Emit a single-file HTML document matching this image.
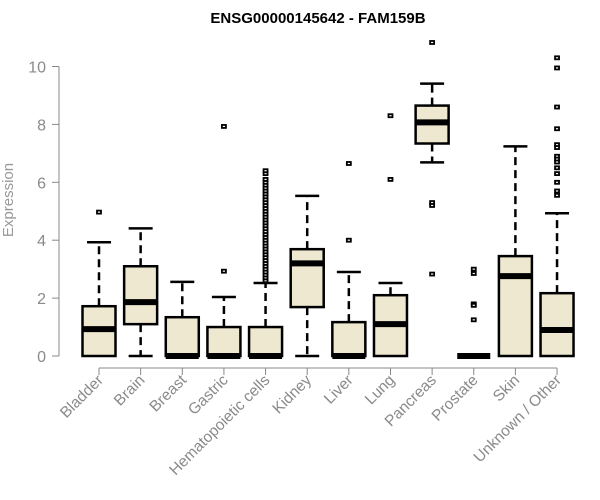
<!DOCTYPE html>
<html><head><meta charset="utf-8"><style>
body{margin:0;background:#fff;}
svg{display:block;font-family:"Liberation Sans",Arial,sans-serif;}
</style></head><body>
<svg id="chart" width="600" height="500" viewBox="0 0 600 500" xmlns="http://www.w3.org/2000/svg">
<text x="318" y="23" text-anchor="middle" font-weight="bold" font-size="15" fill="#000">ENSG00000145642 - FAM159B</text>
<text transform="translate(13,200) rotate(-90)" text-anchor="middle" font-size="15" fill="#999">Expression</text>
<g id="axes"></g>
<g id="boxes"></g>
</svg>
<script>
const categories=["Bladder","Brain","Breast","Gastric","Hematopoietic cells","Kidney","Liver","Lung","Pancreas","Prostate","Skin","Unknown / Other"];
const whiskerLow=[0,0,0,0,0,0,0,0,6.69,0,0,0];
const q1=[0,1.1,0,0,0,1.69,0,0,7.34,0,0,0];
const median=[0.93,1.86,0,0,0,3.2,0,1.1,8.07,0,2.76,0.9];
const q3=[1.72,3.1,1.34,1.0,1.0,3.69,1.17,2.1,8.65,0,3.45,2.17];
const whiskerHigh=[3.93,4.41,2.56,2.04,2.52,5.53,2.9,2.52,9.41,0,7.24,4.93];
const outliers=[[4.97],[],[],[2.93,7.93],
[2.6,2.7,2.8,2.9,3.0,3.1,3.2,3.3,3.4,3.5,3.6,3.7,3.8,3.9,4.0,4.1,4.2,4.3,4.4,4.5,4.6,4.7,4.8,4.9,5.0,5.1,5.2,5.3,5.4,5.5,5.6,5.7,5.8,5.9,6.0,6.1,6.3,6.4],
[],[4.0,6.65],[6.1,8.3],[10.83,5.3,5.2,2.83],[3.0,2.85,1.8,1.75,1.25],[],
[10.3,9.95,8.6,7.85,7.3,7.2,6.9,6.8,6.7,6.5,6.3,6.0,5.7,5.55]];
const yTicks=[0,2,4,6,8,10];
const NS="http://www.w3.org/2000/svg";
const y=v=>356-v*28.95;
const x=i=>99+i*41.64;
const hw=16.5;
function mk(tag,attrs,parent){const e=document.createElementNS(NS,tag);for(const k in attrs)e.setAttribute(k,attrs[k]);parent.appendChild(e);return e;}
const axes=document.getElementById('axes'),boxes=document.getElementById('boxes');
let yl=mk('line',{x1:59,x2:59,y1:y(10),y2:y(0),stroke:'#888'},axes);


yTicks.forEach(t=>{
 const l=mk('line',{x1:52,x2:59,y1:y(t),y2:y(t),stroke:'#888'},axes);
 
 
 const tx=mk('text',{x:46,y:y(t)+6,'text-anchor':'end','font-size':16,fill:'#8a8a8a'},axes);
 tx.textContent=t;
 
 
});
let xl=mk('line',{x1:x(0),x2:x(categories.length-1),y1:368,y2:368,stroke:'#888'},axes);


categories.forEach((c,i)=>{
 const cx=x(i);
 const tk=mk('line',{x1:cx,x2:cx,y1:368,y2:375,stroke:'#888'},axes);
 
 
 const tx=mk('text',{transform:`translate(${cx+5},${381}) rotate(-45)`,'text-anchor':'end','font-size':15.5,fill:'#8a8a8a'},axes);
 tx.textContent=c;
 
 
 const g=mk('g',{},boxes);
 
 
 if(whiskerHigh[i]>q3[i]){
  mk('line',{x1:cx,x2:cx,y1:y(q3[i]),y2:y(whiskerHigh[i]),stroke:'#000','stroke-width':2.5,'stroke-dasharray':'8,5'},g);
  mk('line',{x1:cx-12,x2:cx+12,y1:y(whiskerHigh[i]),y2:y(whiskerHigh[i]),stroke:'#000','stroke-width':2.5},g);
 }
 if(q1[i]>whiskerLow[i]){
  mk('line',{x1:cx,x2:cx,y1:y(q1[i]),y2:y(whiskerLow[i]),stroke:'#000','stroke-width':2.5,'stroke-dasharray':'8,5'},g);
  mk('line',{x1:cx-12,x2:cx+12,y1:y(whiskerLow[i]),y2:y(whiskerLow[i]),stroke:'#000','stroke-width':2.5},g);
 }
 mk('rect',{x:cx-hw,y:y(q3[i]),width:hw*2,height:Math.max(0,y(q1[i])-y(q3[i])),fill:'#ede8cf',stroke:'#000','stroke-width':2.5},g);
 mk('line',{x1:cx-hw,x2:cx+hw,y1:y(median[i]),y2:y(median[i]),stroke:'#000','stroke-width':6},g);
 outliers[i].forEach(v=>{
  const p=mk('rect',{x:cx-2,y:y(v)-1.5,width:4,height:3,fill:'#fff',stroke:'#000','stroke-width':1.8},g);
  
  
 });
});
</script>
</body></html>
